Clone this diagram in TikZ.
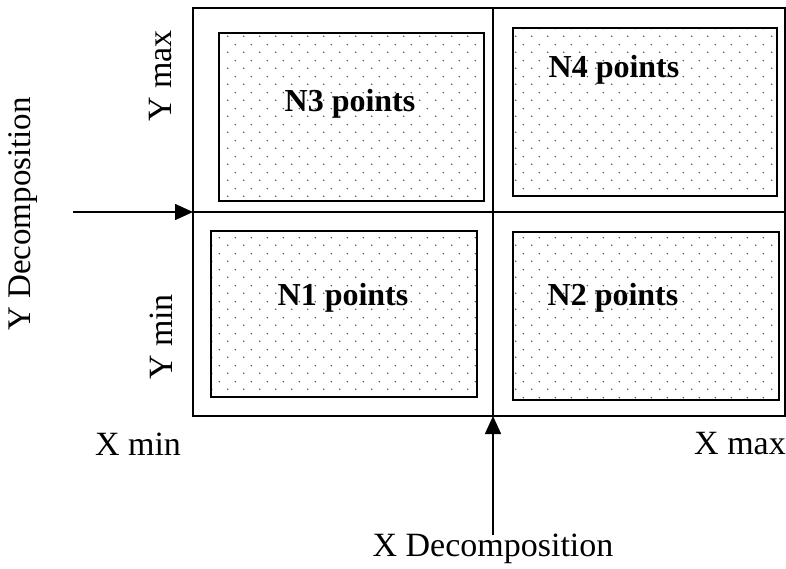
\documentclass[tikz,border=0pt]{standalone}
\usepackage{fontspec}
\setmainfont{Liberation Serif}
\usetikzlibrary{arrows.meta,patterns}

\pgfdeclarepatternformonly{stagdots}{\pgfpointorigin}{\pgfpoint{8pt}{8pt}}{\pgfpoint{8pt}{8pt}}{%
  \pgfpathcircle{\pgfpoint{2pt}{2pt}}{0.45pt}%
  \pgfpathcircle{\pgfpoint{6pt}{6pt}}{0.45pt}%
  \pgfusepath{fill}}

\begin{document}
\begin{tikzpicture}[x=0.5pt, y=-0.5pt,
    every node/.style={font=\fontsize{17}{20}\selectfont},
    cell/.style={rectangle, draw, line width=1pt, pattern=stagdots, pattern color=black!65, anchor=north west, inner sep=0pt},
    cnt/.style={font=\fontsize{16}{18}\selectfont\bfseries, inner sep=1pt},
    e/.style={-{Triangle[length=9pt, width=8pt]}, line width=0.8pt},
  ]
  \useasboundingbox (0,0) rectangle (786,568);
  % outer frame and the two cuts
  \draw[line width=1pt] (193,8) rectangle (785,416);
  \coordinate (ytop) at (493,8);
  \coordinate (ybot) at (493,416);
  \coordinate (xl) at (193,212);
  \coordinate (xr) at (785,212);
  \draw[line width=1pt] (ytop) -- (ybot);
  \draw[line width=1pt] (xl) -- (xr);
  % point sets
  \node[cell, minimum width=132.5pt, minimum height=84pt] (n3) at (218,32) {};
  \node[cell, minimum width=132pt, minimum height=84pt] (n4) at (512,27) {};
  \node[cell, minimum width=133pt, minimum height=83pt] (n1) at (210,230) {};
  \node[cell, minimum width=133pt, minimum height=84pt] (n2) at (512,231) {};
  \node[cnt] at (350,104) {N3 points};
  \node[cnt] at (614,70) {N4 points};
  \node[cnt] at (343,298) {N1 points};
  \node[cnt] at (613,298) {N2 points};
  % range labels
  \node[rotate=90] (ymax) at (161,76) {Y max};
  \node[rotate=90] (ymin) at (161,337) {Y min};
  \node (xmin) at (138,444) {X min};
  \node (xmax) at (740,444) {X max};
  % decomposition arrows
  \node[rotate=90, font=\fontsize{16.5}{20}\selectfont] (ydec) at (23,214) {Y Decomposition};
  \node (xdec) at (493,549) {X Decomposition};
  \coordinate (ystart) at (73,212);
  \coordinate (xstart) at (493,535);
  \draw[e] (ystart) -- (xl);
  \draw[e] (xstart) -- (ybot);
\end{tikzpicture}
\end{document}
